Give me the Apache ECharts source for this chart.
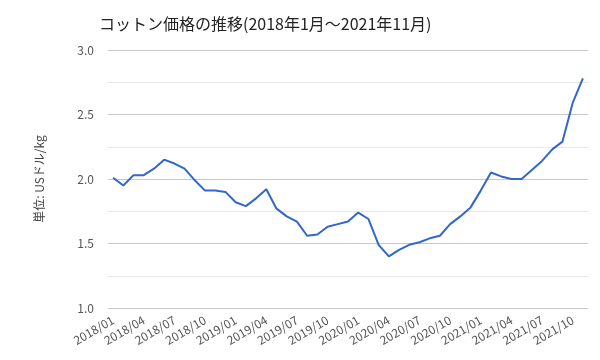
<!DOCTYPE html>
<html><head><meta charset="utf-8">
<script src="https://cdn.jsdelivr.net/npm/echarts@6/dist/echarts.min.js"></script>
<style>html,body{margin:0;padding:0;background:#fff}#c{width:600px;height:360px}</style>
</head><body><div id="c"></div>
<script>
const titleText = 'コットン価格の推移(2018年1月～2021年11月)';
const yAxisName = '単位: USドル/kg';
const months = [];
for (let y = 2018; y <= 2021; y++) {
  for (let m = 1; m <= 12; m++) {
    if (y === 2021 && m > 11) break;
    months.push(y + '/' + String(m).padStart(2, '0'));
  }
}
const prices = [
  2.01, 1.95, 2.03, 2.03, 2.08, 2.15, 2.12, 2.08, 1.99, 1.91, 1.91, 1.90,
  1.82, 1.79, 1.85, 1.92, 1.77, 1.71, 1.67, 1.56, 1.57, 1.63, 1.65, 1.67,
  1.74, 1.69, 1.49, 1.40, 1.45, 1.49, 1.51, 1.54, 1.56, 1.65, 1.71, 1.78,
  1.91, 2.05, 2.02, 2.00, 2.00, 2.07, 2.14, 2.23, 2.29, 2.59, 2.78
];
const font = '"Noto Sans CJK JP", "Noto Sans", sans-serif';
const chart = echarts.init(document.getElementById('c'));
chart.setOption({
  animation: false,
  title: {
    text: titleText, left: 94, top: 11,
    textStyle: { fontFamily: font, fontSize: 16, fontWeight: 'normal', color: '#222' }
  },
  grid: { left: 108, right: 12, top: 50, bottom: 52 },
  xAxis: {
    type: 'category', data: months, boundaryGap: true,
    axisLine: { show: false }, axisTick: { show: false },
    axisLabel: { interval: 2, rotate: 30, fontFamily: font, fontSize: 12, color: '#555', margin: 11 }
  },
  yAxis: {
    type: 'value', min: 1.0, max: 3.0, interval: 0.5,
    name: yAxisName, nameLocation: 'middle', nameGap: 63, nameRotate: 90,
    nameTextStyle: { fontFamily: font, fontSize: 12, color: '#444' },
    axisLine: { show: false }, axisTick: { show: false },
    axisLabel: { formatter: v => v.toFixed(1), fontFamily: font, fontSize: 12, color: '#555', margin: 14 },
    splitLine: { lineStyle: { color: '#c8c8c8', width: 1 } },
    minorTick: { show: false, splitNumber: 2 },
    minorSplitLine: { show: true, lineStyle: { color: '#e8e8e8', width: 1 } }
  },
  series: [{
    type: 'line', data: prices, showSymbol: false,
    lineStyle: { color: '#3366cc', width: 2 }, itemStyle: { color: '#3366cc' }
  }]
});
</script></body></html>
